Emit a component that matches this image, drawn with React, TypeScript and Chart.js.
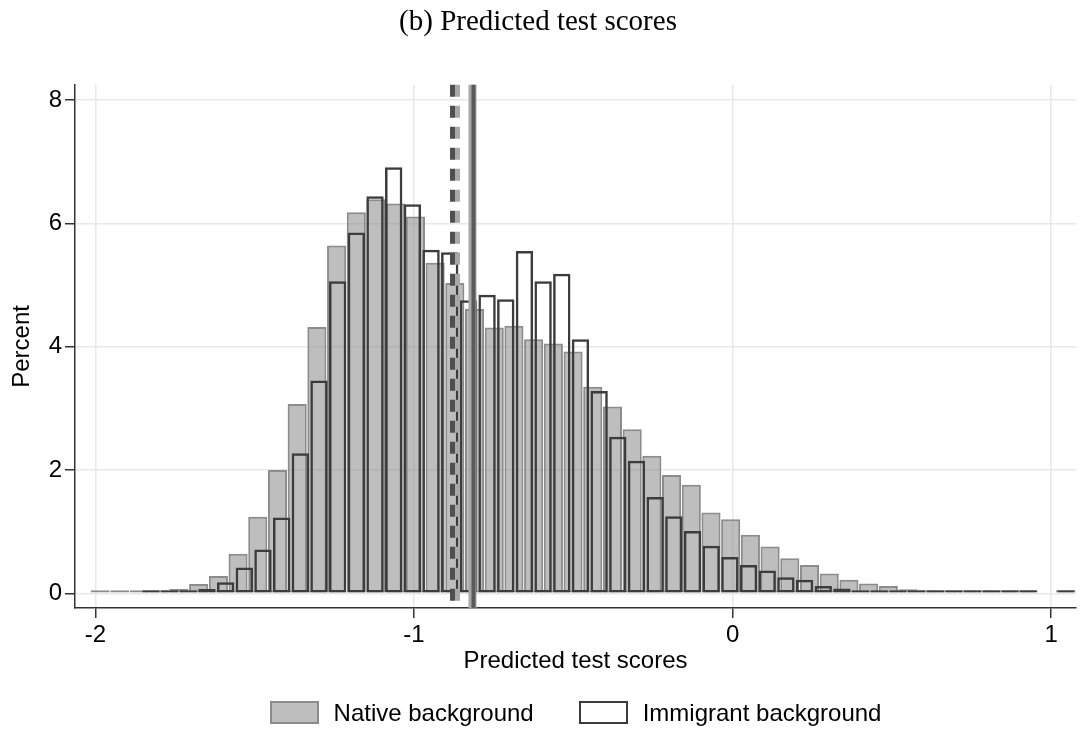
import React, { useEffect, useRef } from 'react';
import { Chart, registerables } from 'chart.js';

Chart.register(...registerables);

// ---------- data ----------
const SERIES_LABELS = ['Native background', 'Immigrant background'];

const NATIVE_BIN_START = -2.016;
const NATIVE_BIN_WIDTH = 0.06185;
const NATIVE_PERCENT: (number | null)[] = [
  0.01, 0.01, 0.01, 0.03, 0.07, 0.15, 0.28, 0.64, 1.24, 2.0,
  3.07, 4.32, 5.64, 6.18, 6.39, 6.32, 6.11, 5.36, 5.03, 4.61,
  4.31, 4.34, 4.12, 4.05, 3.92, 3.35, 3.03, 2.66, 2.23, 1.92,
  1.76, 1.31, 1.2, 0.95, 0.76, 0.57, 0.46, 0.32, 0.22, 0.16,
  0.12, 0.065, 0.03, 0.02, 0.015, 0.01, 0.01, 0.01, null, 0.01,
];

const IMMIGRANT_BIN_START = -1.855;
const IMMIGRANT_BIN_WIDTH = 0.05862;
const IMMIGRANT_PERCENT: (number | null)[] = [
  0.01, 0.03, 0.05, 0.07, 0.18, 0.42, 0.71, 1.23, 2.27, 3.45,
  5.06, 5.85, 6.44, 6.91, 6.31, 5.57, 5.53, 4.75, 4.84, 4.77,
  5.55, 5.06, 5.18, 4.12, 3.28, 2.54, 2.15, 1.56, 1.25, 1.01,
  0.77, 0.59, 0.46, 0.37, 0.26, 0.22, 0.12, 0.08, 0.05, 0.04,
  0.03, 0.015, 0.01, 0.01, 0.01, 0.01, 0.01, 0.01, null, 0.02,
];

// vertical reference lines (means)
const MEAN_LINE_VALUES = [-0.879, -0.8634, -0.8163, -0.8132];

const X_TICKS = [-2, -1, 0, 1];
const Y_TICKS = [0, 2, 4, 6, 8];
const X_MIN = -2.064;
const X_MAX = 1.078;
const Y_MIN = -0.238;
const Y_MAX = 8.245;

const TITLE = '(b) Predicted test scores';
const X_TITLE = 'Predicted test scores';
const Y_TITLE = 'Percent';

// ---------- styles ----------
const SANS = "'Liberation Sans', Arial, sans-serif";
const SERIF = "'Liberation Serif', 'Times New Roman', serif";
const NATIVE_FILL = 'rgba(125,125,125,0.5)';
const NATIVE_BORDER = '#8c8c8c';
const IMM_FILL = 'rgba(0,0,0,0)';
const IMM_BORDER = '#3c3c3c';
const MEAN_LINE_STYLES = [
  { color: '#4f4f4f', width: 5, dash: [12, 9] },
  { color: '#a8a8a8', width: 5, dash: [12, 9] },
  { color: '#a8a8a8', width: 8, dash: [] as number[] },
  { color: '#5a5a5a', width: 4, dash: [] as number[] },
];

const binPoints = (start: number, width: number, vals: (number | null)[]) =>
  vals.map((v, i) => ({ x: start + (i + 0.5) * width, y: v }));

const meanLinesPlugin = {
  id: 'meanLines',
  afterDatasetsDraw(chart: any) {
    const { ctx, chartArea, scales } = chart;
    ctx.save();
    MEAN_LINE_VALUES.forEach((v, i) => {
      const st = MEAN_LINE_STYLES[i];
      const x = scales.x.getPixelForValue(v);
      ctx.strokeStyle = st.color;
      ctx.lineWidth = st.width;
      ctx.setLineDash(st.dash);
      ctx.beginPath();
      ctx.moveTo(x, chartArea.top);
      ctx.lineTo(x, chartArea.bottom);
      ctx.stroke();
    });
    ctx.restore();
  },
};

export default function App() {
  const ref = useRef<HTMLCanvasElement>(null);

  useEffect(() => {
    if (!ref.current) return;
    Chart.defaults.font.family = SANS;
    const axisCommon = {
      grid: {
        color: '#e8e8e8',
        lineWidth: 1.5,
        drawTicks: true,
        tickLength: 10,
        tickColor: '#333333',
        tickWidth: 1.5,
        offset: false,
      },
      border: { display: true, color: '#333333', width: 1.5 },
    };
    const chart = new Chart(ref.current, {
      type: 'bar',
      data: {
        datasets: [
          {
            label: SERIES_LABELS[0],
            data: binPoints(NATIVE_BIN_START, NATIVE_BIN_WIDTH, NATIVE_PERCENT) as any,
            xAxisID: 'x',
            backgroundColor: NATIVE_FILL,
            borderColor: NATIVE_BORDER,
            borderWidth: 2,
            borderSkipped: false,
            barPercentage: 0.97,
            categoryPercentage: 1,
            minBarLength: 3,
            grouped: false,
            order: 1,
          } as any,
          {
            label: SERIES_LABELS[1],
            data: binPoints(IMMIGRANT_BIN_START, IMMIGRANT_BIN_WIDTH, IMMIGRANT_PERCENT) as any,
            xAxisID: 'x2',
            backgroundColor: IMM_FILL,
            borderColor: IMM_BORDER,
            borderWidth: 2.5,
            borderSkipped: false,
            barPercentage: 0.93,
            categoryPercentage: 1,
            minBarLength: 3,
            grouped: false,
            order: 0,
          } as any,
        ],
      },
      options: {
        responsive: false,
        animation: false,
        devicePixelRatio: 1,
        layout: { padding: { top: 0, left: 0, right: 13, bottom: 53 } },
        plugins: {
          legend: { display: false },
          tooltip: { enabled: false },
          title: {
            display: true,
            text: TITLE,
            color: '#000',
            font: { family: SERIF, size: 29, weight: 'normal' },
            padding: { top: 5, bottom: 45 },
          },
        },
        scales: {
          x: {
            type: 'linear',
            position: 'bottom',
            min: X_MIN,
            max: X_MAX,
            offset: false,
            ...axisCommon,
            afterBuildTicks: (axis: any) => {
              axis.ticks = X_TICKS.map((v) => ({ value: v }));
            },
            afterFit: (s: any) => {
              s.height = 68;
            },
            ticks: {
              color: '#000',
              font: { size: 24 },
              padding: 3,
              maxRotation: 0,
              callback: (v: any) => String(v),
            },
            title: {
              display: true,
              text: X_TITLE,
              color: '#000',
              font: { size: 24 },
              padding: { top: 0, bottom: 0 },
            },
          },
          x2: {
            type: 'linear',
            display: false,
            min: X_MIN,
            max: X_MAX,
            offset: false,
            grid: { offset: false },
          },
          y: {
            type: 'linear',
            min: Y_MIN,
            max: Y_MAX,
            ...axisCommon,
            afterBuildTicks: (axis: any) => {
              axis.ticks = Y_TICKS.map((v) => ({ value: v }));
            },
            afterFit: (s: any) => {
              s.width = 75;
            },
            ticks: {
              color: '#000',
              font: { size: 24 },
              padding: 3,
              callback: (v: any) => String(v),
            },
            title: {
              display: true,
              text: Y_TITLE,
              color: '#000',
              font: { size: 24 },
              padding: { top: 8, bottom: 0 },
            },
          },
        },
      } as any,
      plugins: [meanLinesPlugin],
    });
    return () => chart.destroy();
  }, []);

  const legendItems = [
    { label: SERIES_LABELS[0], fill: NATIVE_FILL, border: NATIVE_BORDER },
    { label: SERIES_LABELS[1], fill: '#ffffff', border: IMM_BORDER },
  ];

  return (
    <div style={{ position: 'absolute', left: 0, top: 0, width: 1089, height: 729, background: '#fff' }}>
      <canvas ref={ref} width={1089} height={729} style={{ display: 'block' }} />
      <div
        style={{
          position: 'absolute',
          left: 75,
          width: 1001,
          top: 701,
          height: 23,
          display: 'flex',
          justifyContent: 'center',
          alignItems: 'center',
          fontFamily: SANS,
          fontSize: 24,
          color: '#000',
          gap: 45,
        }}
      >
        {legendItems.map((it) => (
          <div key={it.label} style={{ display: 'flex', alignItems: 'center' }}>
            <div
              style={{
                width: 49,
                height: 23,
                boxSizing: 'border-box',
                background: it.fill,
                border: `2px solid ${it.border}`,
                marginRight: 15,
              }}
            />
            <span style={{ lineHeight: '23px', whiteSpace: 'nowrap' }}>{it.label}</span>
          </div>
        ))}
      </div>
    </div>
  );
}
